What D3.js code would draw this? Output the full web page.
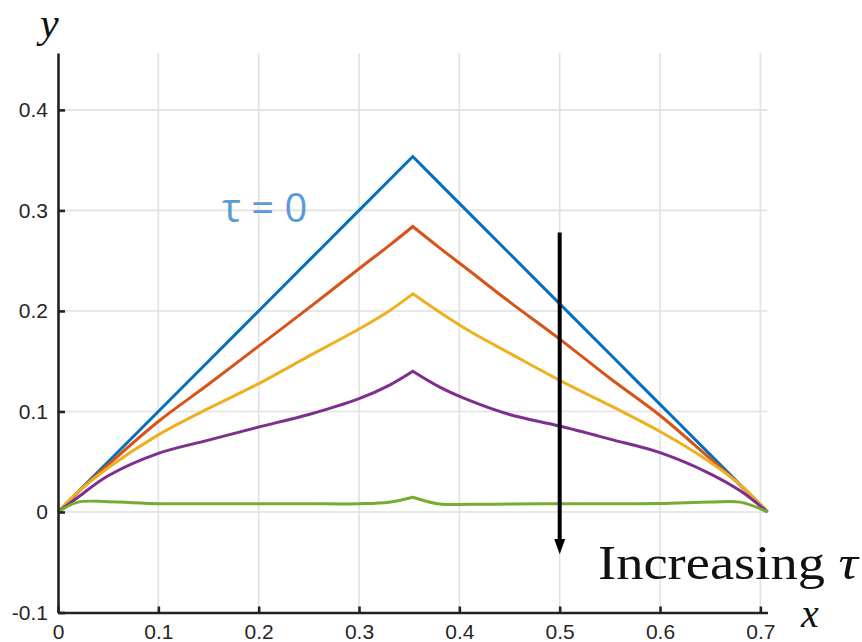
<!DOCTYPE html>
<meta charset="utf-8">
<script src="https://d3js.org/d3.v7.min.js"></script>
<style>
  body { margin: 0; background: #fff; }
  .tick text { font-family: "Liberation Sans", Arial, sans-serif; font-size: 21px; fill: #262626; }
</style>
<body>
<div id="draw"></div>
<script>
  // sample positions along x (peak of the triangle at L/2)
  var L = 0.7071;
  var xs = [0, 0.02, 0.05, 0.1, 0.15, 0.2, 0.25, 0.3, 0.33, 0.3536, 0.38, 0.41, 0.45, 0.5, 0.55, 0.6, 0.65, 0.68, 0.7071];
  var peakIndex = 9;

  // one array per curve
  var tau0 = [0, 0.02, 0.05, 0.1, 0.15, 0.2, 0.25, 0.3, 0.33, 0.3536, 0.3271, 0.2971, 0.2571, 0.2071, 0.1571, 0.1071, 0.0571, 0.0271, 0];
  var tau1 = [0, 0.0196, 0.047, 0.090, 0.127, 0.165, 0.203, 0.242, 0.265, 0.284, 0.263, 0.240, 0.209, 0.172, 0.133, 0.096, 0.053, 0.0265, 0];
  var tau2 = [0, 0.020, 0.044, 0.0767, 0.103, 0.1277, 0.155, 0.182, 0.200, 0.217, 0.199, 0.180, 0.158, 0.131, 0.106, 0.080, 0.0495, 0.027, 0];
  var tau3 = [0, 0.0147, 0.036, 0.0583, 0.0715, 0.0845, 0.097, 0.1128, 0.126, 0.140, 0.1245, 0.111, 0.097, 0.0855, 0.0725, 0.059, 0.038, 0.021, 0];
  var tau4 = [0, 0.0098, 0.0102, 0.0083, 0.0082, 0.0083, 0.0082, 0.0082, 0.0097, 0.0147, 0.0080, 0.0076, 0.0079, 0.0082, 0.0083, 0.0084, 0.0099, 0.0098, 0];

  var seriesColors = ["#0072BD", "#D95319", "#EDB120", "#7E2F8E", "#77AC30"];
  var xTicks = [0, 0.1, 0.2, 0.3, 0.4, 0.5, 0.6, 0.7];
  var xTickLabels = ["0", "0.1", "0.2", "0.3", "0.4", "0.5", "0.6", "0.7"];
  var yTicks = [-0.1, 0, 0.1, 0.2, 0.3, 0.4];
  var yTickLabels = ["-0.1", "0", "0.1", "0.2", "0.3", "0.4"];

  var width = 862, height = 642;

  var svg = d3.select("#draw").append("svg")
    .attr("width", width).attr("height", height);

  var x = d3.scaleLinear().domain([0, L]).range([58, 767.5]);
  var y = d3.scaleLinear().domain([-0.1, 0.4566]).range([612.5, 53]);

  // grid
  var grid = svg.append("g").attr("stroke", "#e1e1e1").attr("stroke-width", 1.6);
  grid.selectAll(".vg").data(xTicks.slice(1)).enter().append("line")
    .attr("x1", function(d){ return x(d); }).attr("x2", function(d){ return x(d); })
    .attr("y1", y.range()[1]).attr("y2", y.range()[0]);
  grid.selectAll(".hg").data(yTicks.slice(1)).enter().append("line")
    .attr("x1", x.range()[0]).attr("x2", x.range()[1])
    .attr("y1", function(d){ return y(d); }).attr("y2", function(d){ return y(d); });

  // curves: left and right of the peak drawn separately so the kink stays sharp
  var all = [tau0, tau1, tau2, tau3, tau4];
  var line = d3.line()
    .x(function(d){ return x(d[0]); })
    .y(function(d){ return y(d[1]); })
    .curve(d3.curveCatmullRom.alpha(0.5));

  all.forEach(function(vals, k){
    var pts = xs.map(function(v, i){ return [v, vals[i]]; });
    var parts = [pts.slice(0, peakIndex + 1), pts.slice(peakIndex)];
    svg.append("path")
      .attr("d", line(parts[0]) + line(parts[1]).replace(/^M/, "L"))
      .attr("fill", "none")
      .attr("stroke", seriesColors[k])
      .attr("stroke-width", 3)
      .attr("stroke-linejoin", "miter");
  });

  // axes, ticks pointing inward
  var xAxis = d3.axisBottom(x).tickValues(xTicks)
    .tickFormat(function(d, i){ return xTickLabels[i]; })
    .tickSizeInner(-6).tickSizeOuter(0).tickPadding(12);
  var yAxis = d3.axisLeft(y).tickValues(yTicks)
    .tickFormat(function(d, i){ return yTickLabels[i]; })
    .tickSizeInner(-7).tickSizeOuter(0).tickPadding(10);

  var gx = svg.append("g").attr("transform", "translate(0," + y.range()[0] + ")").call(xAxis);
  var gy = svg.append("g").attr("transform", "translate(" + x.range()[0] + ",0)").call(yAxis);
  [gx, gy].forEach(function(g){
    g.select(".domain").attr("stroke", "#222").attr("stroke-width", 2.6);
    g.selectAll(".tick line").attr("stroke", "#222").attr("stroke-width", 2.6);
  });

  // arrow
  var ax = x(0.5);
  svg.append("line")
    .attr("x1", ax).attr("x2", ax)
    .attr("y1", y(0.278)).attr("y2", y(-0.028))
    .attr("stroke", "#000").attr("stroke-width", 4);
  svg.append("path")
    .attr("d", "M" + (ax - 5.5) + "," + y(-0.027) + "L" + (ax + 5.5) + "," + y(-0.027) + "L" + ax + "," + y(-0.042) + "Z")
    .attr("fill", "#000");

  // labels
  svg.append("text").attr("x", 222).attr("y", 222)
    .attr("font-family", "'Open Sans', sans-serif").attr("font-size", 40)
    .attr("fill", "#5B9BD5").text("τ = 0");

  var inc = svg.append("text").attr("x", 598).attr("y", 579)
    .attr("font-family", "'Liberation Serif', serif").attr("font-size", 48)
    .attr("textLength", 260).attr("lengthAdjust", "spacingAndGlyphs")
    .attr("fill", "#111");
  inc.append("tspan").text("Increasing ");
  inc.append("tspan").attr("font-style", "italic").text("τ");

  svg.append("text").attr("x", 801).attr("y", 627)
    .attr("font-family", "'Liberation Serif', serif").attr("font-style", "italic").attr("font-size", 40)
    .attr("fill", "#111").text("x");

  svg.append("text").attr("x", 40).attr("y", 37)
    .attr("font-family", "'Liberation Serif', serif").attr("font-style", "italic").attr("font-size", 42)
    .attr("fill", "#111").text("y");
</script>
</body>
